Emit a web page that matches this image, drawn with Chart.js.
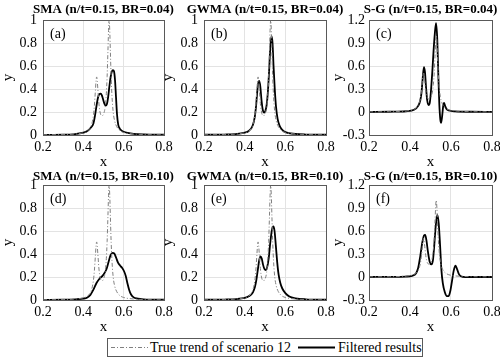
<!DOCTYPE html>
<html>
<head>
<meta charset="utf-8">
<script src="https://cdn.jsdelivr.net/npm/chart.js@4.4.1/dist/chart.umd.min.js"></script>
<style>
  body { margin: 0; background: #fff; }
  #wrap { position: relative; width: 500px; height: 362px; overflow: hidden; background: #fff; }
  #wrap canvas { position: absolute; }
  #legend {
    position: absolute; left: 107px; top: 338px; width: 314px; height: 17px;
    border: 1px solid #595959; background: #fff;
    font: 14px 'Liberation Serif', 'Times New Roman', serif; color: #000;
  }
  #legend svg, #legend span { position: absolute; top: 0; }
  #legend span { line-height: 17px; white-space: nowrap; }
</style>
</head>
<body>
<div id="wrap">
  <div id="legend">
    <svg width="40" height="17" style="left:2px"><line x1="1" y1="8.5" x2="38" y2="8.5" stroke="#808080" stroke-width="1" stroke-dasharray="4,2,1,2"/></svg>
    <span style="left:42px">True trend of scenario 12</span>
    <svg width="40" height="17" style="left:189px"><line x1="1" y1="8.5" x2="38" y2="8.5" stroke="#000" stroke-width="2"/></svg>
    <span style="left:230px">Filtered results</span>
  </div>
</div>
<script>
// Six filter panels, 2 rows x 3 columns, matlab-like look

const serif = "'Liberation Serif', 'Times New Roman', serif";

// Tick values
const xTicks = [0.2, 0.4, 0.6, 0.8];
const yTicksUnit = [0, 0.2, 0.4, 0.6, 0.8, 1];
const yTicksSG = [-0.3, 0, 0.3, 0.6, 0.9, 1.2];

// True trend of scenario 12 (same in every panel)
const trueX = [0.2, 0.3, 0.35, 0.4, 0.42, 0.44, 0.45, 0.455, 0.46, 0.463, 0.466, 0.469, 0.472, 0.478, 0.484, 0.49, 0.496, 0.502, 0.508, 0.514, 0.518, 0.522, 0.525, 0.528, 0.531, 0.534, 0.538, 0.542, 0.548, 0.555, 0.565, 0.58, 0.6, 0.65, 0.7, 0.8];
const trueY = [0.002, 0.004, 0.007, 0.019, 0.034, 0.085, 0.17, 0.26, 0.39, 0.47, 0.505, 0.47, 0.40, 0.26, 0.19, 0.17, 0.17, 0.19, 0.24, 0.36, 0.51, 0.73, 0.91, 1.0, 0.91, 0.73, 0.50, 0.34, 0.20, 0.125, 0.075, 0.04, 0.022, 0.009, 0.004, 0.002];

// SMA, BR=0.04
const smaX04 = [0.2, 0.3, 0.35, 0.4, 0.42, 0.44, 0.45, 0.458, 0.465, 0.472, 0.479, 0.486, 0.492, 0.498, 0.505, 0.511, 0.517, 0.523, 0.529, 0.535, 0.541, 0.547, 0.552, 0.557, 0.562, 0.567, 0.573, 0.58, 0.59, 0.6, 0.62, 0.65, 0.7, 0.8];
const smaY04 = [0.001, 0.003, 0.006, 0.02, 0.035, 0.07, 0.1, 0.17, 0.25, 0.32, 0.355, 0.36, 0.345, 0.31, 0.27, 0.255, 0.27, 0.33, 0.42, 0.5, 0.55, 0.565, 0.555, 0.48, 0.33, 0.18, 0.09, 0.058, 0.038, 0.028, 0.018, 0.01, 0.005, 0.002];

// GWMA, BR=0.04
const gwX04 = [0.2, 0.3, 0.35, 0.4, 0.42, 0.44, 0.45, 0.456, 0.462, 0.468, 0.472, 0.477, 0.483, 0.489, 0.496, 0.502, 0.508, 0.514, 0.52, 0.526, 0.532, 0.537, 0.542, 0.548, 0.554, 0.562, 0.572, 0.585, 0.6, 0.65, 0.7, 0.8];
const gwY04 = [0.002, 0.004, 0.007, 0.02, 0.035, 0.085, 0.16, 0.25, 0.38, 0.46, 0.47, 0.42, 0.3, 0.22, 0.195, 0.21, 0.26, 0.37, 0.55, 0.76, 0.86, 0.8, 0.6, 0.4, 0.25, 0.14, 0.08, 0.045, 0.025, 0.009, 0.004, 0.002];

// S-G, BR=0.04
const sgX04 = [0.2, 0.3, 0.38, 0.42, 0.44, 0.45, 0.456, 0.462, 0.468, 0.473, 0.478, 0.484, 0.491, 0.497, 0.503, 0.509, 0.515, 0.521, 0.527, 0.533, 0.538, 0.543, 0.548, 0.552, 0.557, 0.562, 0.566, 0.571, 0.578, 0.59, 0.62, 0.7, 0.8];
const sgY04 = [0, 0.003, 0.01, 0.03, 0.08, 0.15, 0.25, 0.44, 0.585, 0.52, 0.33, 0.15, 0.09, 0.13, 0.3, 0.53, 0.8, 1.02, 1.16, 0.95, 0.5, 0.1, -0.1, -0.14, -0.05, 0.08, 0.12, 0.08, 0.04, 0.02, 0.008, 0.003, 0.001];

// SMA, BR=0.10
const smaX10 = [0.2, 0.3, 0.36, 0.4, 0.42, 0.435, 0.45, 0.466, 0.48, 0.495, 0.505, 0.515, 0.525, 0.535, 0.545, 0.553, 0.562, 0.572, 0.582, 0.592, 0.602, 0.61, 0.618, 0.627, 0.636, 0.648, 0.67, 0.7, 0.8];
const smaY10 = [0.001, 0.003, 0.006, 0.012, 0.022, 0.045, 0.09, 0.15, 0.185, 0.21, 0.235, 0.27, 0.33, 0.39, 0.41, 0.405, 0.37, 0.325, 0.3, 0.28, 0.25, 0.21, 0.15, 0.09, 0.05, 0.025, 0.012, 0.006, 0.002];

// GWMA, BR=0.10
const gwX10 = [0.2, 0.3, 0.36, 0.4, 0.42, 0.44, 0.45, 0.458, 0.466, 0.472, 0.478, 0.484, 0.49, 0.497, 0.504, 0.51, 0.518, 0.526, 0.534, 0.541, 0.547, 0.553, 0.56, 0.567, 0.575, 0.585, 0.6, 0.62, 0.65, 0.7, 0.8];
const gwY10 = [0.002, 0.004, 0.008, 0.018, 0.032, 0.065, 0.11, 0.18, 0.28, 0.35, 0.38, 0.36, 0.31, 0.27, 0.26, 0.28, 0.36, 0.5, 0.61, 0.64, 0.6, 0.48, 0.33, 0.22, 0.15, 0.1, 0.06, 0.03, 0.015, 0.006, 0.002];

// S-G, BR=0.10
const sgX10 = [0.2, 0.3, 0.38, 0.41, 0.43, 0.44, 0.45, 0.46, 0.468, 0.474, 0.48, 0.488, 0.496, 0.505, 0.512, 0.518, 0.525, 0.533, 0.54, 0.547, 0.553, 0.56, 0.57, 0.58, 0.588, 0.596, 0.605, 0.613, 0.622, 0.63, 0.638, 0.648, 0.67, 0.7, 0.8];
const sgY10 = [0, 0.002, 0.006, 0.015, 0.05, 0.12, 0.27, 0.45, 0.54, 0.55, 0.48, 0.32, 0.2, 0.165, 0.22, 0.4, 0.65, 0.81, 0.7, 0.4, 0.1, -0.08, -0.2, -0.25, -0.25, -0.19, -0.05, 0.08, 0.147, 0.1, 0.04, 0.01, 0, 0, 0];

// Layout of the grid
const cols = [
    { left: 0, axisW: 43, padRight: 21, tickPad: 6 },
    { left: 160, axisW: 44, padRight: 19, tickPad: 6 },
    { left: 330, axisW: 39, padRight: 23, tickPad: 4 }
];
const rows = [{ top: 0, titleGap: 10 }, { top: 165, titleGap: 8.5 }];

const panels = [
    { row: 0, col: 0, tag: '(a)', title: 'SMA (n/t=0.15, BR=0.04)', xs: smaX04, ys: smaY04, yTicks: yTicksUnit },
    { row: 0, col: 1, tag: '(b)', title: 'GWMA (n/t=0.15, BR=0.04)', xs: gwX04, ys: gwY04, yTicks: yTicksUnit },
    { row: 0, col: 2, tag: '(c)', title: 'S-G (n/t=0.15, BR=0.04)', xs: sgX04, ys: sgY04, yTicks: yTicksSG },
    { row: 1, col: 0, tag: '(d)', title: 'SMA (n/t=0.15, BR=0.10)', xs: smaX10, ys: smaY10, yTicks: yTicksUnit },
    { row: 1, col: 1, tag: '(e)', title: 'GWMA (n/t=0.15, BR=0.10)', xs: gwX10, ys: gwY10, yTicks: yTicksUnit },
    { row: 1, col: 2, tag: '(f)', title: 'S-G (n/t=0.15, BR=0.10)', xs: sgX10, ys: sgY10, yTicks: yTicksSG }
];

// Box round the axes, the bold title centred on the axes and the (a)..(f) tag
const axesBox = {
    id: 'axesBox',
    afterDraw(chart, args, opts) {
        const { ctx, chartArea: a } = chart;
        ctx.save();
        ctx.strokeStyle = '#595959';
        ctx.lineWidth = 1;
        const l = Math.round(a.left) + 0.5, t = Math.round(a.top) + 0.5;
        ctx.strokeRect(l, t, Math.round(a.right) - Math.round(a.left), Math.round(a.bottom) - Math.round(a.top));

        ctx.fillStyle = '#000';
        ctx.textBaseline = 'middle';
        ctx.font = '14px ' + serif;
        ctx.textAlign = 'left';
        ctx.fillText(opts.tag || '', a.left + 7, a.top + 14);

        ctx.font = 'bold 13px ' + serif;
        ctx.textAlign = 'center';
        ctx.fillText(opts.title || '', (a.left + a.right) / 2, a.top - opts.gap);
        ctx.restore();
    }
};
Chart.register(axesBox);

function toPoints(xs, ys) {
    return xs.map((x, i) => ({ x, y: ys[i] }));
}

function makePanel(p) {
    const c = cols[p.col], r = rows[p.row];
    const canvas = document.createElement('canvas');
    canvas.width = 185;
    canvas.height = 170;
    canvas.style.left = c.left + 'px';
    canvas.style.top = r.top + 'px';
    document.getElementById('wrap').appendChild(canvas);

    const yMin = p.yTicks[0], yMax = p.yTicks[p.yTicks.length - 1];

    return new Chart(canvas, {
        type: 'line',
        data: {
            datasets: [
                {
                    label: 'True trend of scenario 12',
                    data: toPoints(trueX, trueY),
                    borderColor: '#808080',
                    borderWidth: 1,
                    borderDash: [4, 2, 1, 2],
                    pointRadius: 0,
                    cubicInterpolationMode: 'monotone'
                },
                {
                    label: 'Filtered results',
                    data: toPoints(p.xs, p.ys),
                    borderColor: '#000',
                    borderWidth: 1.8,
                    pointRadius: 0,
                    cubicInterpolationMode: 'monotone'
                }
            ]
        },
        options: {
            responsive: false,
            animation: false,
            layout: { padding: { left: 0, right: c.padRight, top: 20, bottom: 0 } },
            plugins: {
                legend: { display: false },
                tooltip: { enabled: false },
                title: { display: false },
                axesBox: { tag: p.tag, title: p.title, gap: r.titleGap }
            },
            scales: {
                x: {
                    type: 'linear',
                    min: 0.2,
                    max: 0.8,
                    afterBuildTicks: s => { s.ticks = xTicks.map(v => ({ value: v })); },
                    afterFit: s => { s.height = 35; },
                    ticks: {
                        color: '#000',
                        font: { family: serif, size: 14 },
                        padding: 4,
                        maxRotation: 0,
                        autoSkip: false,
                        callback: v => String(v)
                    },
                    grid: { color: '#e3e3e3', drawTicks: false },
                    border: { display: false },
                    title: {
                        display: true,
                        text: 'x',
                        color: '#000',
                        font: { family: serif, size: 15, lineHeight: 1.1 },
                        padding: 0
                    }
                },
                y: {
                    type: 'linear',
                    min: yMin,
                    max: yMax,
                    afterBuildTicks: s => { s.ticks = p.yTicks.map(v => ({ value: v })); },
                    afterFit: s => { s.width = c.axisW; },
                    ticks: {
                        color: '#000',
                        font: { family: serif, size: 14 },
                        padding: c.tickPad,
                        autoSkip: false,
                        callback: v => String(v)
                    },
                    grid: { color: '#e3e3e3', drawTicks: false },
                    border: { display: false },
                    title: {
                        display: true,
                        text: 'y',
                        color: '#000',
                        font: { family: serif, size: 15, lineHeight: 1.1 },
                        padding: 0
                    }
                }
            }
        }
    });
}

panels.forEach(makePanel);
</script>
</body>
</html>
